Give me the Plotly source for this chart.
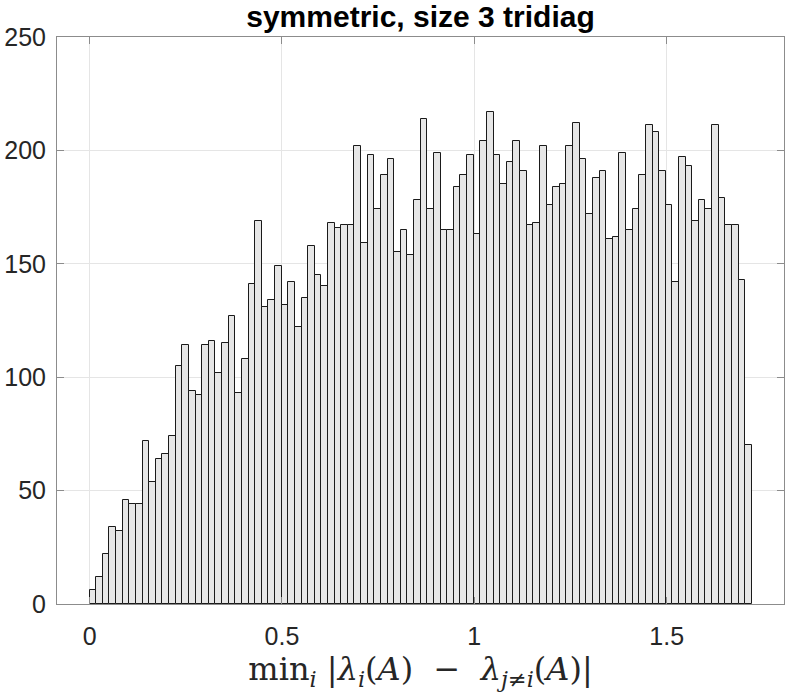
import numpy as np
import plotly.graph_objects as go

# histogram counts, read bar by bar (100 bins starting at 0)
counts = [
    6, 12, 22, 34, 32, 46, 44, 44, 72, 54,
    64, 66, 74, 105, 114, 94, 92, 114, 116, 102,
    115, 127, 93, 108, 141, 169, 131, 134, 149, 132,
    142, 122, 135, 158, 145, 140, 168, 166, 167, 167,
    202, 159, 198, 174, 189, 196, 155, 165, 154, 178,
    214, 174, 199, 165, 165, 184, 189, 198, 163, 204,
    217, 198, 185, 195, 204, 191, 167, 168, 202, 176,
    184, 185, 202, 212, 196, 172, 188, 191, 161, 162,
    199, 165, 174, 189, 211, 208, 191, 176, 142, 197,
    193, 169, 178, 174, 211, 179, 167, 167, 143, 70,
]
bin_lo = 0.0
bin_hi = 1.7214
x_ticks = [0, 0.5, 1, 1.5]
x_ticklabels = ["0", "0.5", "1", "1.5"]
y_ticks = [0, 50, 100, 150, 200, 250]

edges = np.linspace(bin_lo, bin_hi, len(counts) + 1)
centers = (edges[:-1] + edges[1:]) / 2
bw = edges[1] - edges[0]

fig = go.Figure()
fig.add_trace(go.Bar(
    x=centers, y=counts, width=bw,
    marker=dict(color="#e6e6e6", line=dict(color="#1a1a1a", width=1)),
    hoverinfo="x+y",
))

axis_common = dict(
    showline=True, linecolor="#8c8c8c", linewidth=1, mirror="allticks",
    ticks="inside", ticklen=7, tickcolor="#8c8c8c", tickwidth=1,
    showgrid=True, gridcolor="#e5e5e5", gridwidth=1, zeroline=False,
    automargin=False,
    tickfont=dict(family="Liberation Sans, Arial, sans-serif", size=25,
                  color="#262626"),
)
fig.update_xaxes(
    range=[-0.0847, 1.805], tickvals=x_ticks, ticktext=x_ticklabels,
    ticklabelstandoff=10,
    title=dict(
        text="min<sub><i>i</i></sub> |<i>λ</i><sub><i>i</i></sub>(<i>A</i>)  −  "
             "<i>λ</i><sub><i>j</i>≠<i>i</i></sub>(<i>A</i>)|",
        font=dict(family="DejaVu Serif, Liberation Serif, serif", size=32,
                  color="#262626"),
        standoff=3,
    ),
    **axis_common,
)
fig.update_yaxes(
    range=[0, 250], tickvals=y_ticks, ticklabelstandoff=5,
    **axis_common,
)
fig.update_layout(
    width=789, height=693,
    title=dict(
        text="<b>symmetric, size 3 tridiag</b>",
        font=dict(family="Liberation Sans, Arial, sans-serif", size=30,
                  color="black"),
        x=(57 + 784) / 2 / 789, xanchor="center",
        y=1 - 6 / 693, yanchor="top",
    ),
    margin=dict(l=57, r=5, t=37, b=89),
    paper_bgcolor="white", plot_bgcolor="white",
    bargap=0, showlegend=False,
)

# drop the page's default body margin so the figure sits at the window corner
fig.write_html("out.html", config={"displayModeBar": False},
               post_script="document.body.style.margin = '0';")
